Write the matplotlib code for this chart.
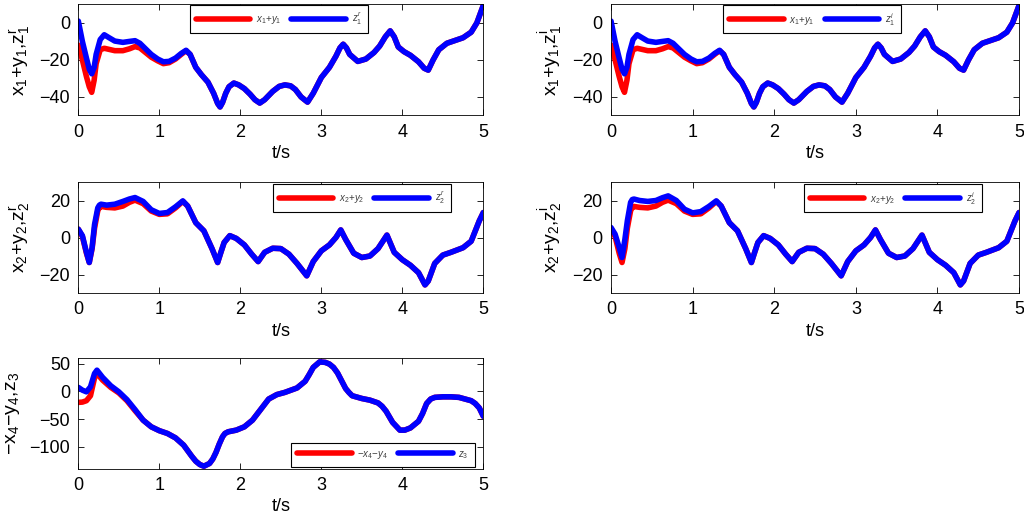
import matplotlib
matplotlib.use("Agg")
import matplotlib.pyplot as plt

plt.rcParams["font.family"] = ["Liberation Sans", "DejaVu Sans"]
plt.rcParams["mathtext.fontset"] = "custom"
plt.rcParams["mathtext.rm"] = "Liberation Sans"
plt.rcParams["mathtext.it"] = "Liberation Sans:italic"

# ---- panel 1: x1+y1 vs z1 (real and imaginary parts look the same) ----
t1 = [0, 0.05, 0.1, 0.135, 0.165, 0.195, 0.22, 0.27, 0.32, 0.38,
      0.45, 0.55, 0.63, 0.7, 0.76, 0.83, 0.9, 0.98, 1.05, 1.12,
      1.2, 1.27, 1.33, 1.38, 1.45, 1.52, 1.6, 1.67, 1.72, 1.75,
      1.78, 1.82, 1.86, 1.92, 1.98, 2.05, 2.12, 2.18, 2.24, 2.3,
      2.4, 2.48, 2.55, 2.62, 2.68, 2.75, 2.83, 2.9, 3.0, 3.1,
      3.18, 3.23, 3.27, 3.31, 3.35, 3.45, 3.55, 3.65, 3.72, 3.79,
      3.85, 3.9, 3.95, 4.02, 4.1, 4.2, 4.27, 4.32, 4.38, 4.45,
      4.55, 4.65, 4.75, 4.85, 4.92, 5.0]
z1 = [1, -10, -19, -25, -27.5, -24, -17, -9, -6.4, -8,
      -9.8, -10.5, -10, -9.6, -11, -14, -17, -19.5, -21, -20.8,
      -19, -16.5, -14.8, -17, -24, -28, -32, -38, -43.5, -45.4,
      -43, -38, -34.5, -32.5, -33.5, -35.5, -38.5, -41.5, -43.3, -41.5,
      -37, -34.3, -33.5, -34, -36, -40, -42.8, -38, -29.5, -24,
      -18, -13.5, -11.5, -13.5, -17, -20.8, -19.5, -16, -12.5, -7.5,
      -4.3, -7.5, -13, -15.5, -17.5, -21, -24.5, -25.5, -20, -14.5,
      -11, -9.5, -8, -5, 0, 9.5]
xy1_head = [-12, -20, -29, -34.5, -37.5, -31, -22, -14.5, -13.7, -14.3,
            -15, -15, -14, -12.8, -13.5, -16, -18.5, -20.5, -22, -21.5,
            -19.5, -17, -15]
xy1 = xy1_head + z1[len(xy1_head):]

# ---- panel 2: x2+y2 vs z2 ----
t2 = [0, 0.05, 0.1, 0.135, 0.17, 0.2, 0.24, 0.26, 0.28, 0.35,
      0.45, 0.55, 0.63, 0.7, 0.8, 0.9, 1.0, 1.1, 1.2, 1.29,
      1.35, 1.45, 1.55, 1.65, 1.72, 1.76, 1.8, 1.87, 1.95, 2.05,
      2.14, 2.22, 2.3, 2.4, 2.5, 2.6, 2.7, 2.82, 2.9, 3.0,
      3.1, 3.18, 3.24, 3.3, 3.4, 3.5, 3.6, 3.7, 3.81, 3.9,
      4.0, 4.1, 4.2, 4.28, 4.32, 4.4, 4.5, 4.6, 4.75, 4.85,
      4.95, 5.0]
z2r = [4.5, 1, -8, -13.5, -5.4, 7, 16, 17.5, 18, 17.5,
       18, 19.5, 20.8, 21.6, 19.5, 15, 13, 13.5, 16.6, 19.8,
       17, 8, 3.6, -6, -13.5, -8, -2.7, 1, -0.5, -4,
       -9, -13, -8, -5.8, -6, -9, -14, -20.7, -13, -7.2,
       -4, 0, 4.1, -1, -8.5, -10.8, -10, -6, 1.3, -8,
       -12, -15, -19, -25.6, -23.5, -14, -9.5, -8, -5.5, -2,
       9, 13.5]
z2i_head = [5.4, 1.8, -5.4, -10.8, -1, 9, 19, 20.5, 20.8, 20,
            19.5, 20, 21.5, 22.5, 20, 15.3, 13.3, 14, 16.8, 19.8]
z2i = z2i_head + z2r[len(z2i_head):]
xy2_head = [4.5, 0.5, -8.5, -13.5, -6, 5, 14.5, 16.2, 16.8, 16.3,
            16, 17, 19, 20.2, 18.3, 14.3, 12.5, 12.8, 16, 19.5]
xy2 = xy2_head + z2r[len(xy2_head):]

# ---- panel 3: -x4-y4 vs z3 ----
t3 = [0, 0.05, 0.1, 0.15, 0.2, 0.23, 0.3, 0.4, 0.5, 0.6,
      0.7, 0.8, 0.9, 1.0, 1.1, 1.2, 1.3, 1.4, 1.45, 1.5,
      1.55, 1.62, 1.66, 1.7, 1.74, 1.78, 1.81, 1.85, 1.95, 2.05,
      2.15, 2.25, 2.35, 2.45, 2.55, 2.7, 2.8, 2.85, 2.9, 2.98,
      3.05, 3.1, 3.15, 3.2, 3.25, 3.3, 3.34, 3.38, 3.5, 3.6,
      3.7, 3.75, 3.8, 3.84, 3.88, 3.97, 4.03, 4.1, 4.2, 4.25,
      4.3, 4.35, 4.4, 4.5, 4.6, 4.7, 4.85, 4.9, 4.95, 5.0]
z3 = [7, 2, -1, 8, 32, 38, 25, 10, -1, -15,
      -33, -52, -64, -71, -76, -84, -97, -117, -126, -132,
      -135, -130, -122, -110, -95, -82, -76, -73, -70, -64,
      -52, -33, -14, -6, -2, 6, 18, 30, 43, 53,
      52, 49, 43, 33, 19, 5, -2, -8, -13, -16,
      -21, -27, -36, -46, -56, -70, -70, -66, -54, -40,
      -22, -14, -11, -10, -10, -11, -17, -22, -30, -45]
xy4_head = [-20, -19.5, -17, -8, 24, 32, 20, 7, -3, -17, -35]
xy4 = xy4_head + z3[len(xy4_head):]

xticks = [0, 1, 2, 3, 4, 5]

panels = [
    # rect, t, red, blue, ylim, yticks, ylabel, red label, blue label, legend corner
    ([0.0765, 0.778, 0.3955, 0.2135], t1, xy1, z1, (-50, 10), [-40, -20, 0],
     r"$\mathrm{x_1{+}y_1{,}z_1^r}$", r"$x_1{+}y_1$", r"$z_1^r$", (0.276, 0.995)),
    ([0.5967, 0.778, 0.3985, 0.2135], t1, xy1, z1, (-50, 10), [-40, -20, 0],
     r"$\mathrm{x_1{+}y_1{,}z_1^i}$", r"$x_1{+}y_1$", r"$z_1^i$", (0.275, 0.995)),
    ([0.0765, 0.4365, 0.3955, 0.2135], t2, xy2, z2r, (-30, 30), [-20, 0, 20],
     r"$\mathrm{x_2{+}y_2{,}z_2^r}$", r"$x_2{+}y_2$", r"$z_2^r$", (0.481, 0.982)),
    ([0.5967, 0.4365, 0.3985, 0.2135], t2, xy2, z2i, (-30, 30), [-20, 0, 20],
     r"$\mathrm{x_2{+}y_2{,}z_2^i}$", r"$x_2{+}y_2$", r"$z_2^i$", (0.473, 0.982)),
    ([0.0765, 0.0981, 0.3955, 0.2135], t3, xy4, z3, (-140, 60), [-100, -50, 0, 50],
     r"$\mathrm{{-}x_4{-}y_4{,}z_3}$", r"${-}x_4{-}y_4$", r"$z_3$", (0.526, 0.234)),
]

fig = plt.figure(figsize=(10.24, 5.2), dpi=100)

for rect, t, red, blue, ylim, yticks, ylab, lab_r, lab_b, corner in panels:
    ax = fig.add_axes(rect)
    ax.plot(t, red, color="#ff0000", lw=4, label=lab_r, solid_capstyle="round")
    ax.plot(t, blue, color="#0000ff", lw=4, label=lab_b, solid_capstyle="round")
    ax.set_xlim(0, 5)
    ax.set_ylim(*ylim)
    ax.set_xticks(xticks)
    ax.set_yticks(yticks)
    ax.tick_params(direction="in", top=True, right=True, length=4,
                   width=0.6, labelsize=13, pad=6)
    for sp in ax.spines.values():
        sp.set_linewidth(0.6)
    ax.set_xlabel("t/s", fontsize=13, labelpad=3)
    ax.set_ylabel(ylab, fontsize=14, labelpad=5)
    leg = ax.legend(loc="upper left", bbox_to_anchor=corner, ncol=2,
                    fontsize=7, handlelength=5.6, handletextpad=0.6,
                    columnspacing=1.0, borderpad=0.6, fancybox=False,
                    framealpha=1, edgecolor="black", borderaxespad=0,
                    labelcolor="#404040")
    leg.get_frame().set_linewidth(0.8)

fig.savefig("out.png", dpi=100)
